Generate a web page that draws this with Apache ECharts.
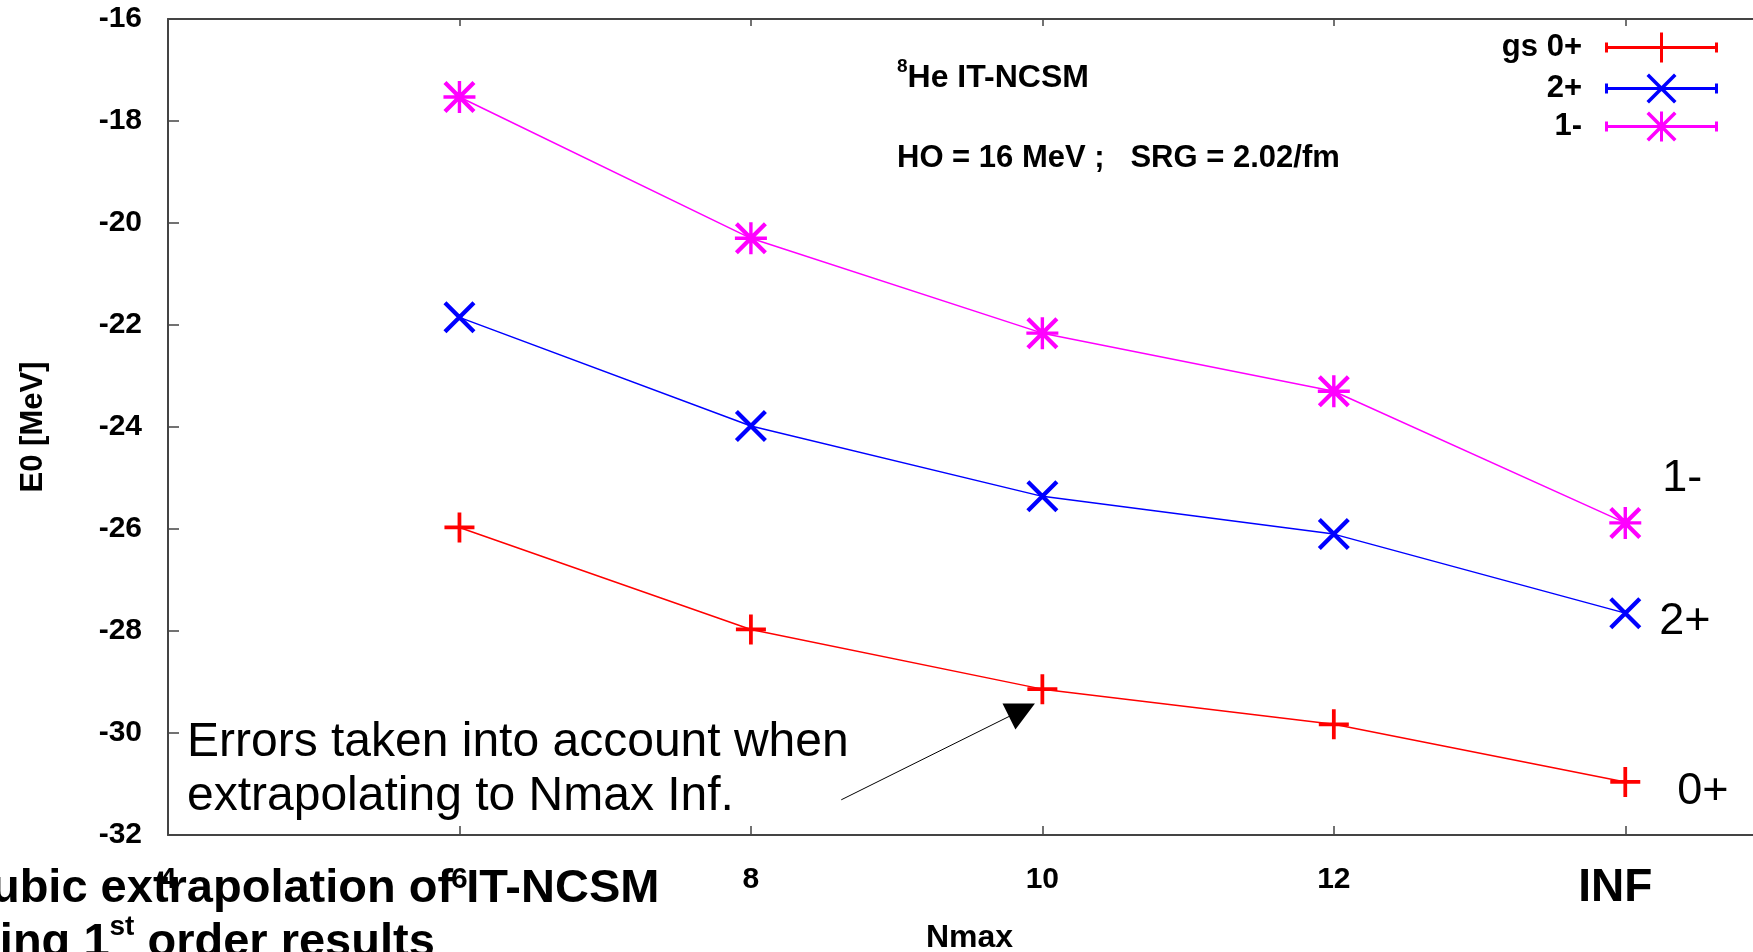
<!DOCTYPE html>
<html>
<head>
<meta charset="utf-8">
<title>8He IT-NCSM</title>
<script src="https://cdn.jsdelivr.net/npm/echarts@6/dist/echarts.min.js"></script>
<style>
  html, body { margin: 0; padding: 0; background: #fff; }
  #chart { width: 1753px; height: 952px; }
</style>
</head>
<body>
<div id="chart"></div>
<script>
// Nmax values, the last one (14) stands for INF
const nmax = [6, 8, 10, 12, 14];
const xTicks = [4, 6, 8, 10, 12, 14];
const xTickLabels = ['4', '6', '8', '10', '12', 'INF'];

const seriesNames = ['gs 0+', '2+', '1-'];
const endLabels = ['0+', '2+', '1-'];

// E0 [MeV]
const gs0Plus = [-25.97, -27.97, -29.14, -29.83, -30.96];
const ex2Plus = [-21.85, -23.98, -25.36, -26.10, -27.65];
const ex1Minus = [-17.53, -20.30, -22.16, -23.30, -25.88];

// arrow of the note, in data units
const arrowFrom = [8.62, -31.31];
const arrowTo = [9.86, -29.55];

const FONT = '"Liberation Sans", Arial, sans-serif';
const colors = ['#ff0000', '#0000ff', '#ff00ff'];

// point shapes
const PLUS = 'path://M14,0H18V32H14Z M0,14H32V18H0Z';
const CROSS = 'path://M0,3L3,0L32,29L29,32Z M29,0L32,3L3,32L0,29Z';
const STAR = 'path://M0,3L3,0L32,29L29,32Z M29,0L32,3L3,32L0,29Z M14.3,0H17.7V32H14.3Z M0,14.3H32V17.7H0Z';

// legend samples: line with end caps and the point in the middle
const base = 'M0,10H3V20H0Z M110,10H113V20H110Z M0,13.5H113V16.5H0Z ';
const legendIcons = [
  'path://' + base + 'M55,0H58V30H55Z',
  'path://' + base + 'M41.5,2.5L44,0L71.5,27.5L69,30Z M69,0L71.5,2.5L44,30L41.5,27.5Z',
  'path://' + base + 'M41.5,2.5L44,0L71.5,27.5L69,30Z M69,0L71.5,2.5L44,30L41.5,27.5Z M55,0H58V30H55Z'
];
const symbols = [PLUS, CROSS, STAR];
const symbolSizes = [30, 32, 32];
const labelOffsets = [[32, 10], [13, 8], [16, -44]];

function buildData(vals, i) {
  return vals.map((v, k) => {
    const item = { value: [nmax[k], v] };
    if (k === vals.length - 1) {
      item.label = {
        show: true,
        position: 'right',
        distance: 5,
        offset: labelOffsets[i],
        formatter: endLabels[i],
        fontSize: 45,
        fontFamily: FONT,
        color: '#000'
      };
    }
    return item;
  });
}

const chart = echarts.init(document.getElementById('chart'));

const axisLine = { show: true, onZero: false, lineStyle: { color: '#444', width: 2 } };

const series = [gs0Plus, ex2Plus, ex1Minus].map((vals, i) => ({
  name: seriesNames[i],
  type: 'line',
  data: buildData(vals, i),
  symbol: symbols[i],
  symbolSize: symbolSizes[i],
  showAllSymbol: true,
  lineStyle: { color: colors[i], width: 1.5 },
  itemStyle: { color: colors[i] },
  emphasis: { disabled: true },
  z: 3 + i
}));

series[0].markLine = {
  silent: true,
  symbol: ['none', 'triangle'],
  symbolSize: 29,
  label: { show: false },
  lineStyle: { color: '#000', width: 1, type: 'solid' },
  itemStyle: { color: '#000' },
  emphasis: { disabled: true },
  data: [[{ coord: arrowFrom }, { coord: arrowTo }]]
};

const legendTops = [32, 73, 111];

const option = {
  animation: false,
  backgroundColor: '#fff',
  grid: { left: 168, top: 19, width: 1603, height: 816, containLabel: false, outerBoundsMode: 'none' },
  legend: seriesNames.map((n, i) => ({
    data: [{ name: n, icon: legendIcons[i] }],
    right: 35,
    top: legendTops[i],
    padding: 0,
    align: 'right',
    itemWidth: 113,
    itemHeight: 30,
    selectedMode: false,
    textStyle: {
      fontSize: 31,
      fontWeight: 'bold',
      fontFamily: FONT,
      color: '#000',
      padding: [9, 18, 0, 0]
    }
  })),
  xAxis: [
    {
      type: 'value',
      position: 'bottom',
      min: 4,
      max: 15,
      interval: 2,
      axisLine: axisLine,
      axisTick: { inside: true, length: 9, lineStyle: { color: '#444', width: 1.5 } },
      splitLine: { show: false },
      axisLabel: {
        margin: 30,
        color: '#000',
        fontSize: 30,
        fontWeight: 'bold',
        fontFamily: FONT,
        showMaxLabel: false,
        formatter: function (v) {
          const k = xTicks.indexOf(v);
          if (k < 0) return '';
          return xTickLabels[k] === 'INF' ? '{inf|INF}' : xTickLabels[k];
        },
        rich: {
          inf: { fontSize: 46, fontWeight: 'bold', fontFamily: FONT, color: '#000', padding: [0, 20, 0, 0] }
        }
      },
      name: 'Nmax',
      nameLocation: 'middle',
      nameGap: 87,
      nameTextStyle: { fontSize: 32, fontWeight: 'bold', fontFamily: FONT, color: '#000' }
    },
    {
      type: 'value',
      position: 'top',
      min: 4,
      max: 15,
      interval: 2,
      axisLine: axisLine,
      axisTick: { inside: true, length: 7, lineStyle: { color: '#444', width: 1.5 } },
      axisLabel: { show: false },
      splitLine: { show: false }
    }
  ],
  yAxis: {
    type: 'value',
    min: -32,
    max: -16,
    interval: 2,
    axisLine: axisLine,
    axisTick: { inside: true, length: 11, lineStyle: { color: '#444', width: 1.5 } },
    splitLine: { show: false },
    axisLabel: {
      margin: 26,
      color: '#000',
      fontSize: 30,
      fontWeight: 'bold',
      fontFamily: FONT
    },
    name: 'E0 [MeV]',
    nameLocation: 'middle',
    nameGap: 119,
    nameRotate: 90,
    nameTextStyle: { fontSize: 31, fontWeight: 'bold', fontFamily: FONT, color: '#000' }
  },
  graphic: [
    {
      type: 'text', x: 897, y: 78, z: 10,
      style: {
        text: '{sup|8}{b|He IT-NCSM}',
        textAlign: 'left', textVerticalAlign: 'middle',
        rich: {
          sup: { fontSize: 19, fontWeight: 'bold', fontFamily: FONT, fill: '#000', verticalAlign: 'top', lineHeight: 42 },
          b: { fontSize: 32, fontWeight: 'bold', fontFamily: FONT, fill: '#000', lineHeight: 42 }
        }
      }
    },
    {
      type: 'text', x: 897, y: 158, z: 10,
      style: {
        text: 'HO = 16 MeV ;   SRG = 2.02/fm',
        font: 'bold 31px ' + FONT, fill: '#000',
        textAlign: 'left', textVerticalAlign: 'middle'
      }
    },
    {
      type: 'text', x: 187, y: 743, z: 10,
      style: {
        text: 'Errors taken into account when',
        font: '48px ' + FONT, fill: '#000',
        textAlign: 'left', textVerticalAlign: 'middle'
      }
    },
    {
      type: 'text', x: 187, y: 797, z: 10,
      style: {
        text: 'extrapolating to Nmax Inf.',
        font: '48px ' + FONT, fill: '#000',
        textAlign: 'left', textVerticalAlign: 'middle'
      }
    },
    {
      type: 'text', x: -43, y: 889, z: 20,
      style: {
        text: 'Cubic extrapolation of IT-NCSM',
        font: 'bold 47px ' + FONT, fill: '#000',
        textAlign: 'left', textVerticalAlign: 'middle'
      }
    },
    {
      type: 'text', x: -55, y: 943, z: 20,
      style: {
        text: '{b|using 1}{sup|st}{b| order results}',
        textAlign: 'left', textVerticalAlign: 'middle',
        rich: {
          b: { fontSize: 47, fontWeight: 'bold', fontFamily: FONT, fill: '#000', lineHeight: 60 },
          sup: { fontSize: 28, fontWeight: 'bold', fontFamily: FONT, fill: '#000', verticalAlign: 'top', lineHeight: 60 }
        }
      }
    }
  ],
  series: series
};

chart.setOption(option);
</script>
</body>
</html>
